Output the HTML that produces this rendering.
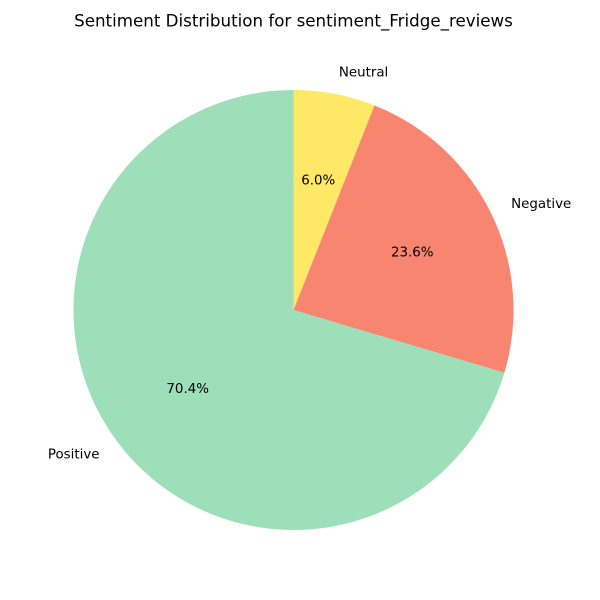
<!DOCTYPE html>
<html><head><meta charset="utf-8"><style>
html,body{margin:0;padding:0;background:#fff;}
svg{display:block;font-family:"DejaVu Sans","Liberation Sans",sans-serif;}
</style></head><body>
<svg id="chart" width="600" height="600" viewBox="0 0 600 600">
<text x="293.5" y="26.5" text-anchor="middle" font-size="16.7" fill="#000">Sentiment Distribution for sentiment_Fridge_reviews</text>
<g id="slices"></g>
<g id="labels"></g>
</svg>
<script>
const categories = ["Neutral", "Negative", "Positive"];
const values = [6.0, 23.6, 70.4];
const colors = ["#ffe866", "#f88570", "#9ddfb8"];

const cx = 293.5, cy = 310, r = 220;
const NS = "http://www.w3.org/2000/svg";
const total = values.reduce((a, b) => a + b, 0);
const gS = document.getElementById("slices"), gL = document.getElementById("labels");
function pt(angDeg, rad) {
  const a = angDeg * Math.PI / 180;
  return [cx + rad * Math.sin(a), cy - rad * Math.cos(a)];
}
let start = 0;
values.forEach((v, i) => {
  const sweep = v / total * 360;
  const end = start + sweep;
  const [x1, y1] = pt(start, r), [x2, y2] = pt(end, r);
  const large = sweep > 180 ? 1 : 0;
  const p = document.createElementNS(NS, "path");
  p.setAttribute("d", `M${cx},${cy} L${x1},${y1} A${r},${r} 0 ${large} 1 ${x2},${y2} Z`);
  p.setAttribute("fill", colors[i]);
  
  
  gS.appendChild(p);
  const mid = start + sweep / 2;
  const [lx, ly] = pt(mid, r * 1.1);
  const t = document.createElementNS(NS, "text");
  t.setAttribute("x", lx);
  t.setAttribute("y", ly + 4);
  t.setAttribute("font-size", "13.4");
  t.setAttribute("text-anchor", lx >= cx ? "start" : "end");
  t.textContent = categories[i];
  
  
  gL.appendChild(t);
  const [px, py] = pt(mid, r * 0.6);
  const q = document.createElementNS(NS, "text");
  q.setAttribute("x", px);
  q.setAttribute("y", py + 4);
  q.setAttribute("font-size", "13.4");
  q.setAttribute("text-anchor", "middle");
  q.textContent = v.toFixed(1) + "%";
  
  
  gL.appendChild(q);
  start = end;
});
</script>
</body></html>
